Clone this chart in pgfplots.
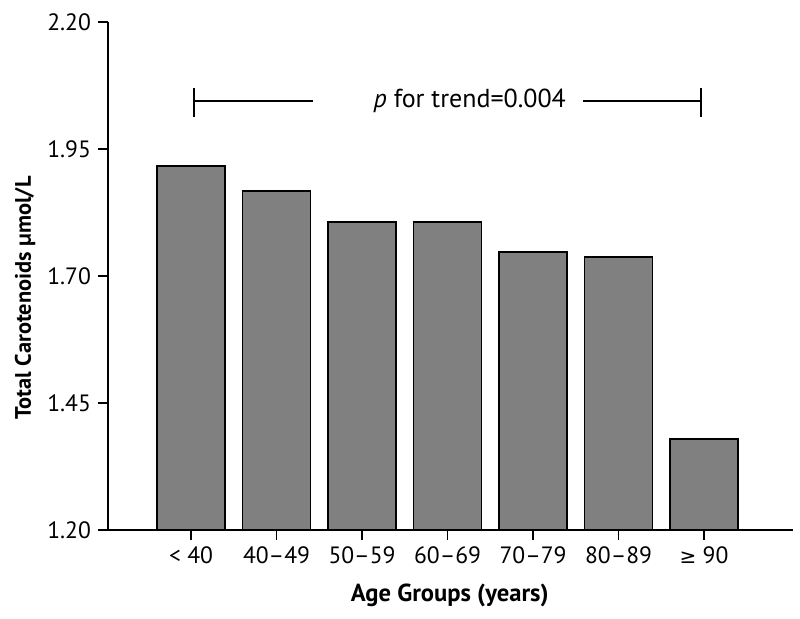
\documentclass[border=0pt]{standalone}
\usepackage{fontspec}
\setmainfont{PT Sans}
\newfontfamily\symfont{DejaVu Sans}
\usepackage{pgfplots}
\pgfplotsset{compat=1.18}

\begin{document}
\begin{tikzpicture}
  \begin{axis}[
      at={(0,0)}, anchor=south west,
      scale only axis,
      width=342.5pt, height=254pt,
      xmin=-0.971, xmax=7.04,
      ymin=1.2, ymax=2.2,
      axis x line=bottom, axis y line=left,
      axis line style={-, line width=0.8pt},
      ybar, bar width=0.795,
      xtick={0,1,2,3,4,5,6},
      xticklabels={{< 40},{40–49},{50–59},{60–69},{70–79},{80–89},{{\symfont\fontsize{10}{12}\selectfont ≥} 90}},
      ytick={1.20,1.45,1.70,1.95,2.20},
      yticklabel style={/pgf/number format/.cd, fixed, fixed zerofill, precision=2},
      /pgf/number format/assume math mode=true,
      tick style={black, line width=0.8pt},
      tick align=outside,
      major tick length=5pt,
      ticklabel style={font=\fontsize{11.8}{13}\selectfont},
      every axis y label/.style={at={(axis description cs:-0.121,0.457)}, rotate=90, anchor=center},
      every axis x label/.style={at={(axis description cs:0.499,-0.128)}, anchor=center},
      xlabel={\fontsize{12.3}{14}\selectfont\bfseries Age Groups (years)},
      ylabel={\fontsize{11.2}{13}\selectfont\bfseries Total Carotenoids µmol/L},
    ]
    \addplot[fill=black!50, draw=black, line width=0.75pt] coordinates {
      (0,1.917) (1,1.867) (2,1.806) (3,1.806) (4,1.747) (5,1.737) (6,1.379)
    };
    % trend bracket
    \draw[line width=0.7pt] (axis cs:0.035,2.0445) -- (axis cs:1.43,2.0445);
    \draw[line width=0.7pt] (axis cs:0.035,2.070) -- (axis cs:0.035,2.013);
    \draw[line width=0.7pt] (axis cs:4.585,2.0445) -- (axis cs:5.965,2.0445);
    \draw[line width=0.7pt] (axis cs:5.965,2.070) -- (axis cs:5.965,2.013);
    \node[font=\fontsize{13}{15}\selectfont] at (axis cs:3.26,2.0445) {\textit{p} for trend=0.004};
  \end{axis}
  \path[use as bounding box] (-54pt,-44pt) rectangle (346pt,265pt);
\end{tikzpicture}
\end{document}
